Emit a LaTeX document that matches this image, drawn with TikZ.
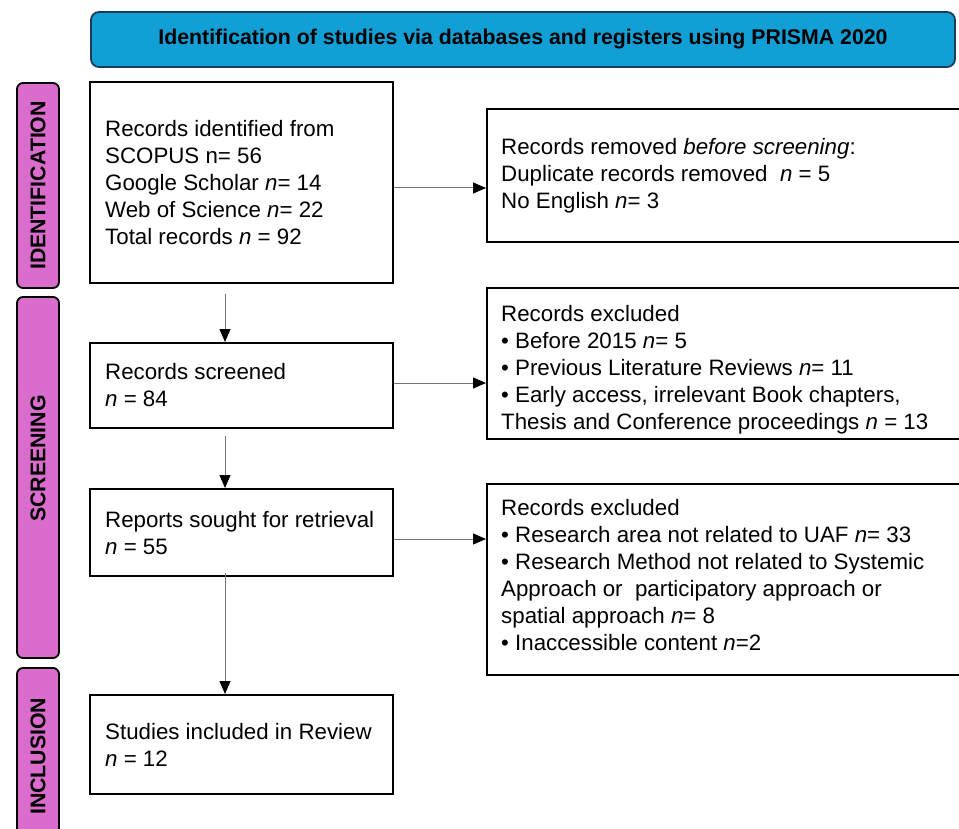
\documentclass[tikz,border=0pt]{standalone}
\usepackage{fontspec}
\setmainfont{Liberation Sans}
\usetikzlibrary{arrows.meta}
\definecolor{bannerblue}{RGB}{18,159,214}
\definecolor{bannerborder}{RGB}{25,60,90}
\definecolor{phasepink}{RGB}{217,108,204}
\begin{document}
\begin{tikzpicture}[x=1pt,y=-1pt,
  box/.style={draw=black, line width=2pt, fill=white, inner sep=0pt},
  phase/.style={draw=black, line width=1.8pt, fill=phasepink, rounded corners=6pt, inner sep=0pt},
  phasetxt/.style={rotate=90, font=\fontsize{21.3}{25}\selectfont\bfseries},
  txt/.style={anchor=west, align=left, font=\fontsize{22.3}{27}\selectfont, inner sep=0pt},
  arr/.style={draw=black!55, line width=1pt, -{Triangle[length=13pt,width=11pt,fill=black,color=black]}}]
\useasboundingbox (0,0) rectangle (959,829);

% banner
\node[draw=bannerborder, line width=1.8pt, fill=bannerblue, rounded corners=8pt,
      minimum width=864pt, minimum height=55pt, inner sep=0pt,
      font=\fontsize{21.3}{25}\selectfont\bfseries] (banner) at (523,39.5)
  {Identification of studies via databases and registers using PRISMA 2020};

% phase labels
\node[phase, minimum width=42pt, minimum height=205pt] (pid) at (38,185.5) {};
\node[phasetxt] at (pid.center) {IDENTIFICATION};
\node[phase, minimum width=42pt, minimum height=361pt] (psc) at (38,477.5) {};
\node[phasetxt] at ([yshift=19pt]psc.center) {SCREENING};
\node[phase, minimum width=42pt, minimum height=190pt] (pin) at (38,763) {};
\node[phasetxt, anchor=east] at ([yshift=-27pt]pin.north) {INCLUSION};

% left boxes
\node[box, minimum width=303pt, minimum height=201pt] (b1) at (241.5,182.5) {};
\node[txt] at (105,183) {Records identified from\\SCOPUS n= 56\\Google Scholar \textit{n}= 14\\Web of Science \textit{n}= 22\\Total records \textit{n} = 92};

\node[box, minimum width=303pt, minimum height=85pt] (b2) at (241.5,385.5) {};
\node[txt] at (105,385.5) {Records screened\\\textit{n} = 84};

\node[box, minimum width=303pt, minimum height=87pt] (b3) at (241.5,532.5) {};
\node[txt] at (105,533) {Reports sought for retrieval\\\textit{n} = 55};

\node[box, minimum width=303pt, minimum height=99pt] (b4) at (241.5,744.5) {};
\node[txt] at (105,745) {Studies included in Review\\\textit{n} = 12};

% right boxes (extend beyond right edge)
\node[box, minimum width=490pt, minimum height=133pt] (r1) at (732,175.5) {};
\node[txt] at (501,176) {Records removed \textit{before screening}:\\Duplicate records removed\ \ \textit{n} = 5\\No English \textit{n}= 3};

\node[box, minimum width=490pt, minimum height=151pt] (r2) at (732,363.5) {};
\node[txt] at (501,370) {Records excluded\\• Before 2015 \textit{n}= 5\\• Previous Literature Reviews \textit{n}= 11\\• Early access, irrelevant Book chapters,\\Thesis and Conference proceedings \textit{n} = 13};

\node[box, minimum width=490pt, minimum height=191pt] (r3) at (732,579.5) {};
\node[txt] at (501,575.5) {Records excluded\\• Research area not related to UAF \textit{n}= 33\\• Research Method not related to Systemic\\Approach or\ \ participatory approach or\\spatial approach \textit{n}= 8\\• Inaccessible content \textit{n}=2};

% vertical arrows
\draw[arr] ([xshift=-16.5pt,yshift=-10pt]b1.south) -- ([xshift=-16.5pt]b2.north);
\draw[arr] ([xshift=-16.5pt,yshift=-7pt]b2.south) -- ([xshift=-16.5pt]b3.north);
\draw[arr] ([xshift=-16.5pt,yshift=4pt]b3.south) -- ([xshift=-16.5pt]b4.north);

% horizontal arrows
\draw[arr] ([yshift=-5.5pt]b1.east) -- ([yshift=-5.5pt]b1.east -| r1.west);
\draw[arr] ([yshift=2.5pt]b2.east) -- ([yshift=2.5pt]b2.east -| r2.west);
\draw[arr] ([yshift=-6.5pt]b3.east) -- ([yshift=-6.5pt]b3.east -| r3.west);
\end{tikzpicture}
\end{document}
